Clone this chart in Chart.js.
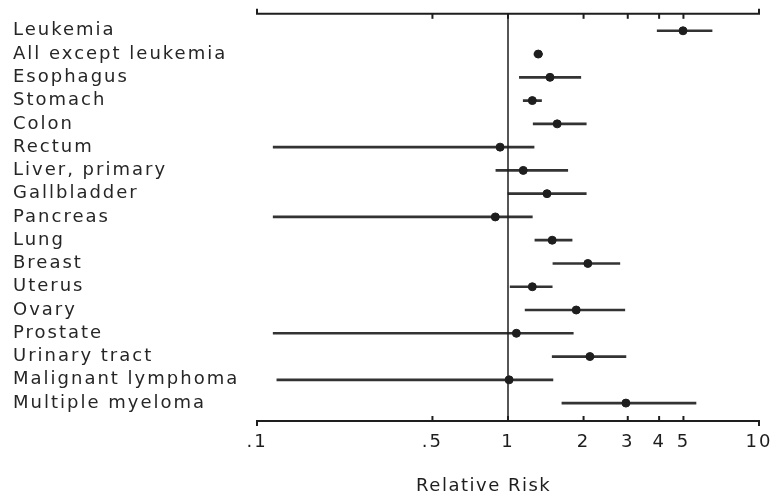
<!DOCTYPE html>
<html>
<head>
<meta charset="utf-8">
<script src="https://cdn.jsdelivr.net/npm/chart.js@4/dist/chart.umd.min.js"></script>
<style>
  html, body { margin: 0; padding: 0; background: #fff; }
  canvas { display: block; }
</style>
</head>
<body>
<canvas id="grafico" width="777" height="500"></canvas>
<script>
// sites, top to bottom
const sites = ['Leukemia', 'All except leukemia', 'Esophagus', 'Stomach', 'Colon', 'Rectum',
  'Liver, primary', 'Gallbladder', 'Pancreas', 'Lung', 'Breast', 'Uterus', 'Ovary',
  'Prostate', 'Urinary tract', 'Malignant lymphoma', 'Multiple myeloma'];
// relative risk and interval ends
const rr    = [4.98, 1.32, 1.47, 1.25, 1.57, 0.93, 1.15, 1.43, 0.89, 1.50, 2.08, 1.25, 1.87, 1.08, 2.12, 1.01, 2.95];
const lower = [3.93, 1.27, 1.11, 1.15, 1.26, 0.116, 0.895, 1.00, 0.116, 1.28, 1.51, 1.02, 1.17, 0.116, 1.50, 0.12, 1.64];
const upper = [6.5, 1.37, 1.95, 1.36, 2.05, 1.27, 1.73, 2.05, 1.25, 1.80, 2.79, 1.50, 2.92, 1.82, 2.95, 1.51, 5.61];
const xTicks = [0.1, 0.5, 1, 2, 3, 4, 5, 10];
const xTitle = 'Relative Risk';

const ink = '#1e1e1e';

// the old typewriter-ish lettering is wide, so space the tick text out a bit
const spacing = {
  id: 'spacing',
  beforeDraw(chart) { chart.ctx.letterSpacing = '2px'; },
  beforeDatasetsDraw(chart) { chart.ctx.letterSpacing = '0px'; }
};

// axis lines top and bottom, small ticks pointing inward, reference line at 1, title
const axisLines = {
  id: 'axisLines',
  afterDatasetsDraw(chart) {
    const ctx = chart.ctx, x = chart.scales.x, a = chart.chartArea;
    ctx.save();
    ctx.strokeStyle = ink;
    ctx.lineWidth = 2;
    [a.top, a.bottom].forEach((y, k) => {
      const dir = k === 0 ? 1 : -1;
      ctx.beginPath();
      ctx.moveTo(a.left, y - dir * 5);
      ctx.lineTo(a.left, y);
      ctx.lineTo(a.right, y);
      ctx.lineTo(a.right, y - dir * 5);
      ctx.stroke();
      xTicks.slice(1, -1).forEach(v => {
        const px = x.getPixelForValue(v);
        ctx.beginPath();
        ctx.moveTo(px, y);
        ctx.lineTo(px, y + dir * 5);
        ctx.stroke();
      });
    });
    const p1 = x.getPixelForValue(1);
    ctx.lineWidth = 1.5;
    ctx.beginPath();
    ctx.moveTo(p1, a.top);
    ctx.lineTo(p1, a.bottom);
    ctx.stroke();

    // title sits a little left of the plot centre in the original
    ctx.letterSpacing = '1.5px';
    ctx.fillStyle = ink;
    ctx.font = '18px "DejaVu Sans"';
    ctx.textAlign = 'center';
    ctx.textBaseline = 'middle';
    ctx.fillText(xTitle, x.getPixelForValue(0.8), 486);
    ctx.restore();
  }
};

const rows = sites.map((s, i) => i);

new Chart(document.getElementById('grafico'), {
  type: 'bar',
  data: {
    datasets: [{
      type: 'scatter',
      data: rows.map(i => ({ x: rr[i], y: i })),
      backgroundColor: ink,
      borderColor: ink,
      pointRadius: 4,
      pointHoverRadius: 4,
      order: 0
    }, {
      type: 'bar',
      data: rows.map(i => ({ x: [lower[i], upper[i]], y: i })),
      backgroundColor: '#333',
      borderWidth: 0,
      barThickness: 2,
      order: 1
    }]
  },
  plugins: [spacing, axisLines],
  options: {
    indexAxis: 'y',
    responsive: false,
    animation: false,
    devicePixelRatio: 1,
    layout: { padding: { left: 13, top: 13, right: 18, bottom: 0 } },
    plugins: { legend: { display: false }, tooltip: { enabled: false } },
    scales: {
      x: {
        type: 'logarithmic',
        position: 'bottom',
        min: 0.1,
        max: 10,
        afterBuildTicks: s => { s.ticks = xTicks.map(v => ({ value: v })); },
        afterFit: s => { s.height = 79; },
        grid: { display: false },
        border: { display: false },
        ticks: {
          autoSkip: false,
          maxRotation: 0,
          padding: 3,
          color: ink,
          font: { family: 'DejaVu Sans', size: 18 },
          callback: v => v < 1 ? String(v).replace('0.', '.') : String(v)
        }
      },
      y: {
        type: 'linear',
        reverse: true,
        min: -0.73,
        max: 16.77,
        offset: false,
        afterBuildTicks: s => { s.ticks = rows.map(v => ({ value: v })); },
        afterFit: s => { s.width = 244; },
        grid: { display: false },
        border: { display: false },
        ticks: {
          autoSkip: false,
          crossAlign: 'far',
          color: '#262626',
          font: { family: 'DejaVu Sans', size: 18 },
          callback: v => sites[v]
        }
      }
    }
  }
});
</script>
</body>
</html>
